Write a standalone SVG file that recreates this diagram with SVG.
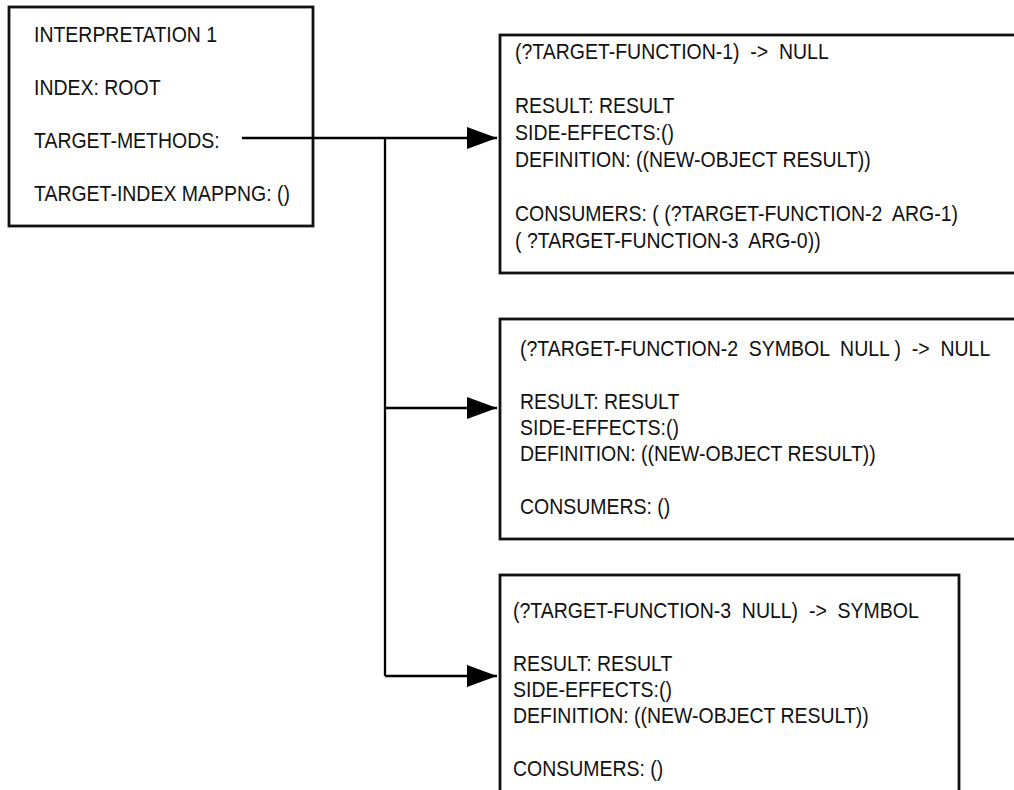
<svg xmlns="http://www.w3.org/2000/svg" width="1014" height="790" viewBox="0 0 1014 790">
  <style>
    .box { fill: #ffffff; stroke: #111111; stroke-width: 2.8; }
    .lbl { font-family: "Liberation Sans", Arial, sans-serif; font-size: 22px; fill: #111111; }
    .wire { fill: none; stroke: #000000; stroke-width: 2.3; }
  </style>
  <defs>
    <marker id="head" markerUnits="userSpaceOnUse" markerWidth="32" markerHeight="24" refX="30" refY="11" orient="auto">
      <path d="M0,0 L30,11 L0,22 Z" fill="#000000"/>
    </marker>
  </defs>

  <rect width="1014" height="790" fill="#ffffff"/>

  <!-- interpretation record -->
  <g id="interpretation">
    <rect class="box" x="9" y="7" width="304" height="219"/>
    <g class="lbl" transform="translate(34,0) scale(0.885,1)">
      <text x="0" y="42">INTERPRETATION 1</text>
      <text x="0" y="95">INDEX: ROOT</text>
      <text x="0" y="148">TARGET-METHODS:</text>
      <text x="0" y="201">TARGET-INDEX MAPPNG: ()</text>
    </g>
  </g>

  <!-- target function 1 -->
  <g id="target-function-1">
    <rect class="box" x="500" y="35" width="530" height="238"/>
    <g class="lbl" transform="translate(515,0) scale(0.885,1)">
      <text x="0" y="59" xml:space="preserve">(?TARGET-FUNCTION-1)  -&gt;  NULL</text>
      <text x="0" y="113">RESULT: RESULT</text>
      <text x="0" y="140">SIDE-EFFECTS:()</text>
      <text x="0" y="167">DEFINITION: ((NEW-OBJECT RESULT))</text>
      <text x="0" y="221" xml:space="preserve">CONSUMERS: ( (?TARGET-FUNCTION-2  ARG-1)</text>
      <text x="0" y="248" xml:space="preserve">( ?TARGET-FUNCTION-3  ARG-0))</text>
    </g>
  </g>

  <!-- target function 2 -->
  <g id="target-function-2">
    <rect class="box" x="500" y="319" width="530" height="220"/>
    <g class="lbl" transform="translate(520,0) scale(0.885,1)">
      <text x="0" y="356" xml:space="preserve">(?TARGET-FUNCTION-2  SYMBOL  NULL )  -&gt;  NULL</text>
      <text x="0" y="409">RESULT: RESULT</text>
      <text x="0" y="435">SIDE-EFFECTS:()</text>
      <text x="0" y="461">DEFINITION: ((NEW-OBJECT RESULT))</text>
      <text x="0" y="514">CONSUMERS: ()</text>
    </g>
  </g>

  <!-- target function 3 -->
  <g id="target-function-3">
    <rect class="box" x="500" y="575" width="459" height="240"/>
    <g class="lbl" transform="translate(513,0) scale(0.885,1)">
      <text x="0" y="618" xml:space="preserve">(?TARGET-FUNCTION-3  NULL)  -&gt;  SYMBOL</text>
      <text x="0" y="671">RESULT: RESULT</text>
      <text x="0" y="697">SIDE-EFFECTS:()</text>
      <text x="0" y="723">DEFINITION: ((NEW-OBJECT RESULT))</text>
      <text x="0" y="776">CONSUMERS: ()</text>
    </g>
  </g>

  <!-- connectors -->
  <g id="connectors">
    <path class="wire" d="M242,138 H497" marker-end="url(#head)"/>
    <path class="wire" d="M385,138 V676"/>
    <path class="wire" d="M385,408 H497" marker-end="url(#head)"/>
    <path class="wire" d="M385,676 H497" marker-end="url(#head)"/>
  </g>
</svg>
